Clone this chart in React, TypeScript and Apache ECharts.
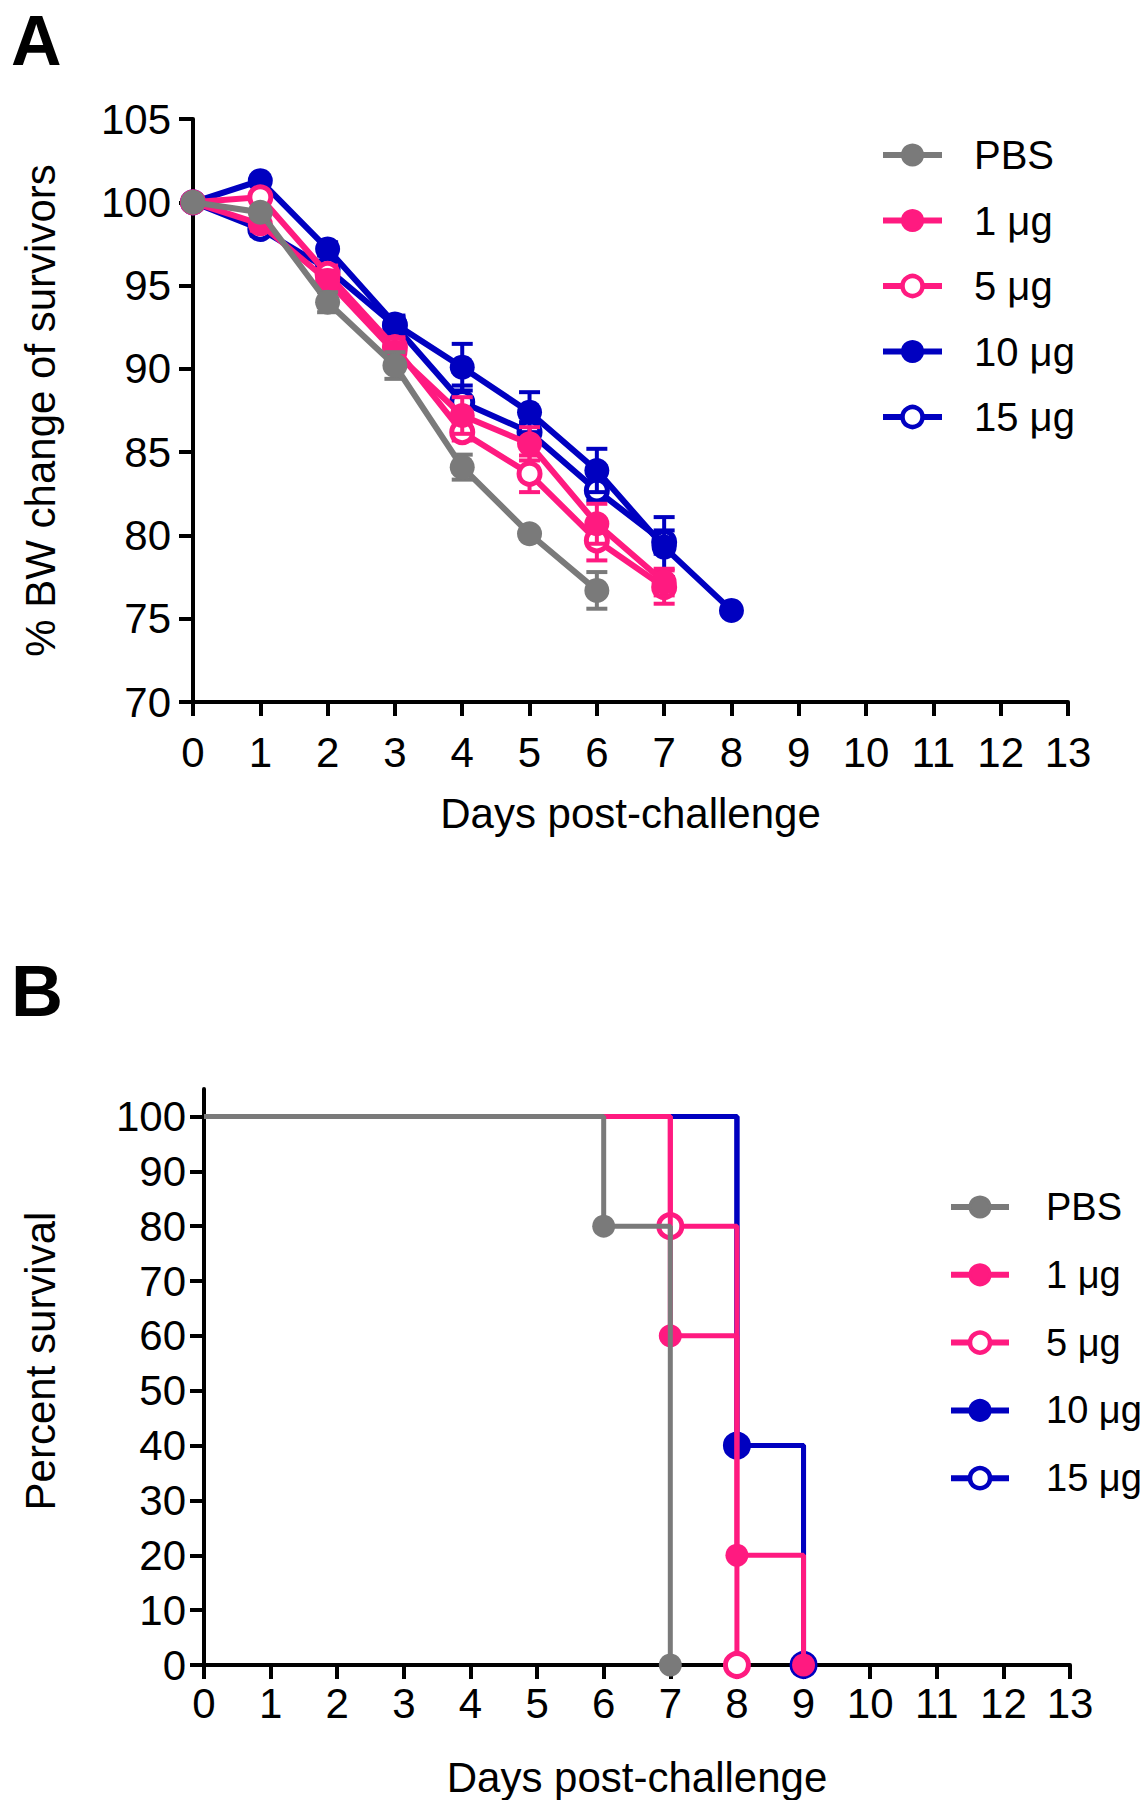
import React, { useEffect, useRef } from 'react';
import * as echarts from 'echarts';

// ---------- shared ----------
const dayTicks = [0, 1, 2, 3, 4, 5, 6, 7, 8, 9, 10, 11, 12, 13];
const groupNames = ['PBS', '1 μg', '5 μg', '10 μg', '15 μg'];
const groupColors = ['#7a7a7a', '#ff1a80', '#ff1a80', '#0000c0', '#0000c0'];
const groupFilled = [true, true, false, true, false];
const groupZ = [5, 4.5, 4, 3.5, 3];

// ---------- panel A: % body weight of survivors (mean, SEM) ----------
const bwDays = [0, 1, 2, 3, 4, 5, 6, 7, 8];
const bwPBS = [100, 99.4, 94.0, 90.2, 84.1, 80.1, 76.7];
const bw1ug = [100, 98.7, 95.3, 91.0, 87.2, 85.5, 80.7, 77.2];
const bw5ug = [100, 100.3, 95.7, 91.3, 86.2, 83.7, 79.7, 76.9];
const bw10ug = [100, 101.3, 97.2, 92.7, 90.1, 87.4, 83.9, 79.3, 75.5];
const bw15ug = [100, 98.4, 96.0, 92.6, 88.0, 86.2, 82.7, 79.6];
const semPBS = [0, 0.3, 0.6, 0.8, 0.75, 0.3, 1.1];
const sem1ug = [0, 0.4, 0.6, 0.8, 1.1, 1.0, 1.2, 0.8];
const sem5ug = [0, 0.3, 0.5, 0.6, 0.5, 1.1, 1.2, 1.0];
const sem10ug = [0, 0.3, 0.4, 0.5, 1.4, 1.2, 1.3, 1.8, 0.2];
const sem15ug = [0, 0.4, 0.5, 0.5, 1.0, 0.6, 0.6, 0.7];
const bwAxisTicks = [70, 75, 80, 85, 90, 95, 100, 105];

// ---------- panel B: percent survival ----------
const survDaysPBS = [0, 6, 7];
const survPBS = [100, 80, 0];
const survDays1ug = [0, 7, 8, 9];
const surv1ug = [100, 60, 20, 0];
const survDays5ug = [0, 7, 8];
const surv5ug = [100, 80, 0];
const survDays10ug = [0, 8, 9];
const surv10ug = [100, 40, 0];
const survDays15ug = [0, 8, 9];
const surv15ug = [100, 40, 0];
const survAxisTicks = [0, 10, 20, 30, 40, 50, 60, 70, 80, 90, 100];

const FONT = "'Liberation Sans', Arial, Helvetica, sans-serif";

export default function App() {
  const ref = useRef<HTMLDivElement>(null);

  useEffect(() => {
    if (!ref.current) return;
    const chart = echarts.init(ref.current, undefined, { renderer: 'svg' });

    const bwMeans = [bwPBS, bw1ug, bw5ug, bw10ug, bw15ug];
    const bwSems = [semPBS, sem1ug, sem5ug, sem10ug, sem15ug];
    const survDays = [survDaysPBS, survDays1ug, survDays5ug, survDays10ug, survDays15ug];
    const survVals = [survPBS, surv1ug, surv5ug, surv10ug, surv15ug];

    const itemStyleFor = (i: number) =>
      groupFilled[i]
        ? { color: groupColors[i], borderColor: groupColors[i], borderWidth: 0 }
        : { color: '#ffffff', borderColor: groupColors[i], borderWidth: 5 };

    const series: any[] = [];

    // error bars (panel A)
    groupNames.forEach((name, i) => {
      const d = bwMeans[i].map((v, k) => [bwDays[k], v, bwSems[i][k]]).filter((p) => p[2] > 0);
      series.push({
        type: 'custom',
        name: name + ' SEM',
        xAxisIndex: 0,
        yAxisIndex: 0,
        z: groupZ[i] - 0.2,
        clip: false,
        encode: { x: 0, y: 1 },
        data: d,
        renderItem: (params: any, api: any) => {
          const x = api.value(0);
          const y = api.value(1);
          const e = api.value(2);
          const top = api.coord([x, y + e]);
          const bot = api.coord([x, y - e]);
          const w = 10.5;
          const st = { stroke: groupColors[i], lineWidth: 4 };
          return {
            type: 'group',
            children: [
              { type: 'line', shape: { x1: top[0], y1: top[1], x2: bot[0], y2: bot[1] }, style: st },
              { type: 'line', shape: { x1: top[0] - w, y1: top[1], x2: top[0] + w, y2: top[1] }, style: st },
              { type: 'line', shape: { x1: bot[0] - w, y1: bot[1], x2: bot[0] + w, y2: bot[1] }, style: st },
            ],
          };
        },
      });
    });

    // mean lines (panel A)
    groupNames.forEach((name, i) => {
      series.push({
        type: 'line',
        name,
        xAxisIndex: 0,
        yAxisIndex: 0,
        z: groupZ[i],
        clip: false,
        symbol: 'circle',
        symbolSize: groupFilled[i] ? 25 : 21,
        lineStyle: { color: groupColors[i], width: 6 },
        itemStyle: itemStyleFor(i),
        data: bwMeans[i].map((v, k) => [bwDays[k], v]),
      });
    });

    // survival step curves (panel B)
    groupNames.forEach((name, i) => {
      series.push({
        type: 'line',
        name,
        xAxisIndex: 1,
        yAxisIndex: 1,
        z: groupZ[i],
        clip: false,
        step: 'end',
        symbol: 'circle',
        symbolSize: 23,
        lineStyle: { color: groupColors[i], width: 5 },
        itemStyle: itemStyleFor(i),
        data: survVals[i].map((v, k) =>
          k === 0 ? { value: [survDays[i][k], v], symbol: 'none' } : { value: [survDays[i][k], v] }
        ),
      });
    });

    const axisCommon = {
      axisLine: { show: true, onZero: false, lineStyle: { color: '#000', width: 4 } },
      axisTick: { show: true, length: 14, lineStyle: { color: '#000', width: 4 } },
      splitLine: { show: false },
    };
    const labelStyle = { color: '#000', fontSize: 42, fontFamily: FONT };
    const nameStyle = { color: '#000', fontSize: 42, fontFamily: FONT };

    const legendData = groupNames.map((name, i) => ({
      name,
      lineStyle: { color: groupColors[i], width: 6 },
      itemStyle: groupFilled[i]
        ? { color: groupColors[i], borderColor: groupColors[i], borderWidth: 3 }
        : { color: '#ffffff', borderColor: groupColors[i], borderWidth: 4.5 },
    }));

    const option: any = {
      animation: false,
      backgroundColor: '#ffffff',
      textStyle: { fontFamily: FONT },
      grid: [
        { left: 193, top: 119, width: 875, height: 583, containLabel: false },
        { left: 204, top: 1089, width: 866, height: 576, containLabel: false },
      ],
      xAxis: [
        {
          ...axisCommon,
          type: 'value',
          gridIndex: 0,
          min: 0,
          max: 13,
          interval: 1,
          axisLabel: { ...labelStyle, margin: 29, customValues: dayTicks },
          axisTick: { ...axisCommon.axisTick, customValues: dayTicks },
          name: 'Days post-challenge',
          nameLocation: 'middle',
          nameGap: 90,
          nameTextStyle: nameStyle,
        },
        {
          ...axisCommon,
          type: 'value',
          gridIndex: 1,
          min: 0,
          max: 13,
          interval: 1,
          axisLabel: { ...labelStyle, margin: 17, customValues: dayTicks },
          axisTick: { ...axisCommon.axisTick, customValues: dayTicks },
          name: 'Days post-challenge',
          nameLocation: 'middle',
          nameGap: 91,
          nameTextStyle: nameStyle,
        },
      ],
      yAxis: [
        {
          ...axisCommon,
          type: 'value',
          gridIndex: 0,
          min: 70,
          max: 105,
          interval: 5,
          axisLabel: { ...labelStyle, margin: 22, customValues: bwAxisTicks },
          axisTick: { ...axisCommon.axisTick, customValues: bwAxisTicks },
          name: '% BW change of survivors',
          nameLocation: 'middle',
          nameGap: 132,
          nameTextStyle: nameStyle,
        },
        {
          ...axisCommon,
          type: 'value',
          gridIndex: 1,
          min: 0,
          max: 105,
          interval: 10,
          axisLabel: { ...labelStyle, margin: 18, customValues: survAxisTicks },
          axisTick: { ...axisCommon.axisTick, customValues: survAxisTicks },
          name: 'Percent survival',
          nameLocation: 'middle',
          nameGap: 143,
          nameTextStyle: { ...nameStyle, padding: [0, 0, 0, 32] },
        },
      ],
      legend: [
        {
          data: legendData,
          orient: 'vertical',
          left: 875,
          top: 128,
          itemWidth: 59,
          itemHeight: 25,
          itemGap: 21.5,
          selectedMode: false,
          textStyle: { color: '#000', fontSize: 40, lineHeight: 44, fontFamily: FONT, padding: [0, 0, 0, 27] },
        },
        {
          data: legendData,
          orient: 'vertical',
          left: 943,
          top: 1180,
          itemWidth: 58,
          itemHeight: 25,
          itemGap: 23.8,
          selectedMode: false,
          textStyle: { color: '#000', fontSize: 38, lineHeight: 44, fontFamily: FONT, padding: [0, 0, 0, 32] },
        },
      ],
      graphic: [
        {
          type: 'text',
          left: 11,
          top: 6,
          style: { text: 'A', fontSize: 70, fontWeight: 'bold', fontFamily: FONT, fill: '#000' },
        },
        {
          type: 'text',
          left: 11,
          top: 955,
          style: { text: 'B', fontSize: 72, fontWeight: 'bold', fontFamily: FONT, fill: '#000' },
        },
      ],
      series,
    };

    chart.setOption(option);
    return () => {
      chart.dispose();
    };
  }, []);

  return (
    <div
      ref={ref}
      style={{ position: 'absolute', left: 0, top: 0, width: 1145, height: 1800, background: '#fff' }}
    />
  );
}
